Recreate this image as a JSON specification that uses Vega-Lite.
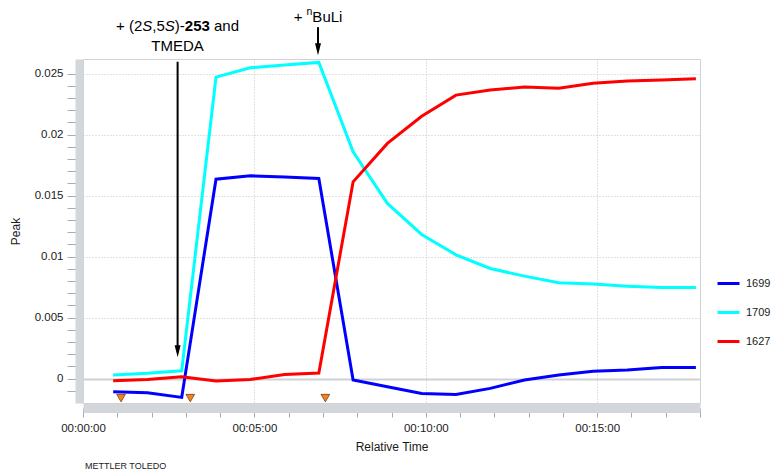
{
  "$schema": "https://vega.github.io/schema/vega-lite/v6.json",
  "width": 617,
  "height": 344,
  "autosize": {"type": "none"},
  "padding": {"left": 83, "top": 59, "right": 74, "bottom": 68},
  "background": "white",
  "config": {
    "font": "Liberation Sans",
    "view": {"stroke": "#cfd3d7", "strokeWidth": 1},
    "axis": {
      "labelFont": "Liberation Sans",
      "titleFont": "Liberation Sans",
      "labelFontSize": 11.5,
      "titleFontSize": 12,
      "labelColor": "#1a1a1a",
      "titleColor": "#1a1a1a",
      "titleFontWeight": "normal",
      "tickColor": "#a9adb1",
      "domainColor": "#d3d6da",
      "labelOverlap": false,
      "labelBound": false,
      "labelFlush": false
    }
  },
  "title": {
    "text": "METTLER TOLEDO",
    "orient": "bottom",
    "anchor": "start",
    "frame": "group",
    "fontSize": 9,
    "fontWeight": "normal",
    "color": "#222222",
    "offset": 9,
    "dx": 2
  },
  "datasets": {
    "main": [
      {"t": 0.88, "s": "1699", "v": -0.00108}, {"t": 1.88, "s": "1699", "v": -0.00116}, {"t": 2.88, "s": "1699", "v": -0.00154},
      {"t": 3.88, "s": "1699", "v": 0.01635}, {"t": 4.88, "s": "1699", "v": 0.01662}, {"t": 5.88, "s": "1699", "v": 0.01652},
      {"t": 6.88, "s": "1699", "v": 0.01641}, {"t": 7.88, "s": "1699", "v": -0.00012}, {"t": 8.88, "s": "1699", "v": -0.00067},
      {"t": 9.88, "s": "1699", "v": -0.00122}, {"t": 10.88, "s": "1699", "v": -0.0013}, {"t": 11.88, "s": "1699", "v": -0.0008},
      {"t": 12.88, "s": "1699", "v": -0.00012}, {"t": 13.88, "s": "1699", "v": 0.00029}, {"t": 14.88, "s": "1699", "v": 0.00061},
      {"t": 15.88, "s": "1699", "v": 0.0007}, {"t": 16.88, "s": "1699", "v": 0.00092}, {"t": 17.88, "s": "1699", "v": 0.00092},
      {"t": 0.88, "s": "1709", "v": 0.00029}, {"t": 1.88, "s": "1709", "v": 0.00043}, {"t": 2.88, "s": "1709", "v": 0.00064},
      {"t": 3.88, "s": "1709", "v": 0.02471}, {"t": 4.88, "s": "1709", "v": 0.02548}, {"t": 5.88, "s": "1709", "v": 0.0257},
      {"t": 6.88, "s": "1709", "v": 0.02592}, {"t": 7.88, "s": "1709", "v": 0.01859}, {"t": 8.88, "s": "1709", "v": 0.01436},
      {"t": 9.88, "s": "1709", "v": 0.01182}, {"t": 10.88, "s": "1709", "v": 0.01015}, {"t": 11.88, "s": "1709", "v": 0.00903},
      {"t": 12.88, "s": "1709", "v": 0.0084}, {"t": 13.88, "s": "1709", "v": 0.00785}, {"t": 14.88, "s": "1709", "v": 0.00775},
      {"t": 15.88, "s": "1709", "v": 0.00758}, {"t": 16.88, "s": "1709", "v": 0.00747}, {"t": 17.88, "s": "1709", "v": 0.00747},
      {"t": 0.88, "s": "1627", "v": -0.00018}, {"t": 1.88, "s": "1627", "v": -0.00007}, {"t": 2.88, "s": "1627", "v": 0.00015},
      {"t": 3.88, "s": "1627", "v": -0.0002}, {"t": 4.88, "s": "1627", "v": -0.00007}, {"t": 5.88, "s": "1627", "v": 0.00034},
      {"t": 6.88, "s": "1627", "v": 0.00045}, {"t": 7.88, "s": "1627", "v": 0.01613}, {"t": 8.88, "s": "1627", "v": 0.01928},
      {"t": 9.88, "s": "1627", "v": 0.0215}, {"t": 10.88, "s": "1627", "v": 0.02324}, {"t": 11.88, "s": "1627", "v": 0.02365},
      {"t": 12.88, "s": "1627", "v": 0.0239}, {"t": 13.88, "s": "1627", "v": 0.02381}, {"t": 14.88, "s": "1627", "v": 0.02422},
      {"t": 15.88, "s": "1627", "v": 0.02439}, {"t": 16.88, "s": "1627", "v": 0.02447}, {"t": 17.88, "s": "1627", "v": 0.02459}
    ],
    "events": [
      {"t": 1.11, "v": -0.0016},
      {"t": 3.13, "v": -0.0016},
      {"t": 7.07, "v": -0.0016}
    ],
    "arrows": [
      {"t": 2.76, "v": 0.02597, "v2": 0.00225},
      {"t": 6.855, "v": 0.02881, "v2": 0.0270}
    ],
    "heads": [
      {"t": 2.76, "v": 0.00225},
      {"t": 6.855, "v": 0.0270}
    ],
    "line1": [{"t": 2.757, "v": 0.02889}],
    "line2": [{"t": 2.757, "v": 0.02725, "s": "TMEDA"}],
    "buli": [{"t": 6.855, "v": 0.02967}]
  },
  "layer": [
    {
      "data": {"name": "main"},
      "mark": {"type": "line", "strokeWidth": 3},
      "encoding": {
        "x": {
          "field": "t",
          "type": "quantitative",
          "scale": {"domain": [0, 18], "nice": false, "zero": false},
          "axis": {
            "title": "Relative Time",
            "values": [0, 1, 2, 3, 4, 5, 6, 7, 8, 9, 10, 11, 12, 13, 14, 15, 16, 17, 18],
            "tickCount": 100,
            "labelExpr": "datum.value % 5 === 0 ? '00:' + (datum.value < 10 ? '0' : '') + datum.value + ':00' : ''",
            "offset": 5,
            "domainWidth": 9,
            "tickSize": 9,
            "labelPadding": 5,
            "titlePadding": 8,
            "grid": true,
            "gridColor": "#c4c4c4",
            "gridDash": [1, 2],
            "gridOpacity": {"condition": {"test": "datum.value % 5 === 0 && datum.value > 0", "value": 1}, "value": 0}
          }
        },
        "y": {
          "field": "v",
          "type": "quantitative",
          "scale": {"domain": [-0.002, 0.0262], "nice": false, "zero": false},
          "axis": {
            "title": "Peak",
            "values": [-0.001, 0, 0.001, 0.002, 0.003, 0.004, 0.005, 0.006, 0.007, 0.008, 0.009, 0.01, 0.011, 0.012, 0.013, 0.014, 0.015, 0.016, 0.017, 0.018, 0.019, 0.02, 0.021, 0.022, 0.023, 0.024, 0.025],
            "tickCount": 100,
            "format": "~f",
            "labelExpr": "round(datum.value * 1000) % 5 === 0 ? datum.label : ''",
            "offset": 4,
            "domainWidth": 8,
            "tickSize": 12,
            "labelPadding": 4,
            "titlePadding": 12,
            "grid": true,
            "gridColor": {"condition": {"test": "datum.value === 0", "value": "#cdd1d5"}, "value": "#c4c4c4"},
            "gridDash": {"condition": {"test": "datum.value === 0", "value": []}, "value": [1, 2]},
            "gridWidth": {"condition": {"test": "datum.value === 0", "value": 2}, "value": 1},
            "gridOpacity": {"condition": {"test": "round(datum.value * 1000) % 5 === 0", "value": 1}, "value": 0}
          }
        },
        "color": {
          "field": "s",
          "type": "nominal",
          "scale": {"domain": ["1699", "1709", "1627"], "range": ["#0000ff", "#00ffff", "#ff0000"]},
          "legend": {
            "title": null,
            "orient": "none",
            "legendX": 633,
            "legendY": 212,
            "symbolType": "stroke",
            "symbolStrokeWidth": 3,
            "symbolSize": 484,
            "labelFontSize": 11,
            "labelColor": "#1a1a1a",
            "labelOffset": 5,
            "rowPadding": 10
          }
        }
      }
    },
    {
      "data": {"name": "events"},
      "mark": {"type": "point", "shape": "triangle-down", "filled": true, "fill": "#f5821f", "stroke": "#7a3c12", "strokeWidth": 0.8, "opacity": 1, "size": 75},
      "encoding": {
        "x": {"field": "t", "type": "quantitative"},
        "y": {"field": "v", "type": "quantitative"}
      }
    },
    {
      "data": {"name": "arrows"},
      "mark": {"type": "rule", "color": "#000000", "strokeWidth": 2},
      "encoding": {
        "x": {"field": "t", "type": "quantitative"},
        "y": {"field": "v", "type": "quantitative"},
        "y2": {"field": "v2"}
      }
    },
    {
      "data": {"name": "heads"},
      "mark": {"type": "point", "shape": "M-0.5,-1L0.5,-1L0,1Z", "filled": true, "fill": "#000000", "strokeWidth": 0, "opacity": 1, "size": 144},
      "encoding": {
        "x": {"field": "t", "type": "quantitative"},
        "y": {"field": "v", "type": "quantitative"}
      }
    },
    {
      "data": {"name": "line1"},
      "mark": {"type": "text", "text": "+ (2", "align": "left", "baseline": "middle", "dx": -61.5, "fontSize": 15, "font": "Liberation Sans", "color": "#000000"},
      "encoding": {"x": {"field": "t", "type": "quantitative"}, "y": {"field": "v", "type": "quantitative"}}
    },
    {
      "data": {"name": "line1"},
      "mark": {"type": "text", "text": "S", "align": "left", "baseline": "middle", "dx": -35.2, "fontSize": 15, "fontStyle": "italic", "font": "Liberation Sans", "color": "#000000"},
      "encoding": {"x": {"field": "t", "type": "quantitative"}, "y": {"field": "v", "type": "quantitative"}}
    },
    {
      "data": {"name": "line1"},
      "mark": {"type": "text", "text": ",5", "align": "left", "baseline": "middle", "dx": -25.2, "fontSize": 15, "font": "Liberation Sans", "color": "#000000"},
      "encoding": {"x": {"field": "t", "type": "quantitative"}, "y": {"field": "v", "type": "quantitative"}}
    },
    {
      "data": {"name": "line1"},
      "mark": {"type": "text", "text": "S", "align": "left", "baseline": "middle", "dx": -12.7, "fontSize": 15, "fontStyle": "italic", "font": "Liberation Sans", "color": "#000000"},
      "encoding": {"x": {"field": "t", "type": "quantitative"}, "y": {"field": "v", "type": "quantitative"}}
    },
    {
      "data": {"name": "line1"},
      "mark": {"type": "text", "text": ")-", "align": "left", "baseline": "middle", "dx": -2.7, "fontSize": 15, "font": "Liberation Sans", "color": "#000000"},
      "encoding": {"x": {"field": "t", "type": "quantitative"}, "y": {"field": "v", "type": "quantitative"}}
    },
    {
      "data": {"name": "line1"},
      "mark": {"type": "text", "text": "253", "align": "left", "baseline": "middle", "dx": 7.3, "fontSize": 15, "fontWeight": "bold", "font": "Liberation Sans", "color": "#000000"},
      "encoding": {"x": {"field": "t", "type": "quantitative"}, "y": {"field": "v", "type": "quantitative"}}
    },
    {
      "data": {"name": "line1"},
      "mark": {"type": "text", "text": "and", "align": "left", "baseline": "middle", "dx": 36.5, "fontSize": 15, "font": "Liberation Sans", "color": "#000000"},
      "encoding": {"x": {"field": "t", "type": "quantitative"}, "y": {"field": "v", "type": "quantitative"}}
    },
    {
      "data": {"name": "line2"},
      "mark": {"type": "text", "align": "center", "baseline": "middle", "fontSize": 15, "font": "Liberation Sans", "color": "#000000"},
      "encoding": {"x": {"field": "t", "type": "quantitative"}, "y": {"field": "v", "type": "quantitative"}, "text": {"field": "s"}}
    },
    {
      "data": {"name": "buli"},
      "mark": {"type": "text", "text": "+", "align": "left", "baseline": "middle", "dx": -24.3, "fontSize": 15, "font": "Liberation Sans", "color": "#000000"},
      "encoding": {"x": {"field": "t", "type": "quantitative"}, "y": {"field": "v", "type": "quantitative"}}
    },
    {
      "data": {"name": "buli"},
      "mark": {"type": "text", "text": "n", "align": "left", "baseline": "middle", "dx": -11.4, "dy": -5, "fontSize": 10.5, "font": "Liberation Sans", "color": "#000000"},
      "encoding": {"x": {"field": "t", "type": "quantitative"}, "y": {"field": "v", "type": "quantitative"}}
    },
    {
      "data": {"name": "buli"},
      "mark": {"type": "text", "text": "BuLi", "align": "left", "baseline": "middle", "dx": -5.6, "fontSize": 15, "font": "Liberation Sans", "color": "#000000"},
      "encoding": {"x": {"field": "t", "type": "quantitative"}, "y": {"field": "v", "type": "quantitative"}}
    }
  ]
}
